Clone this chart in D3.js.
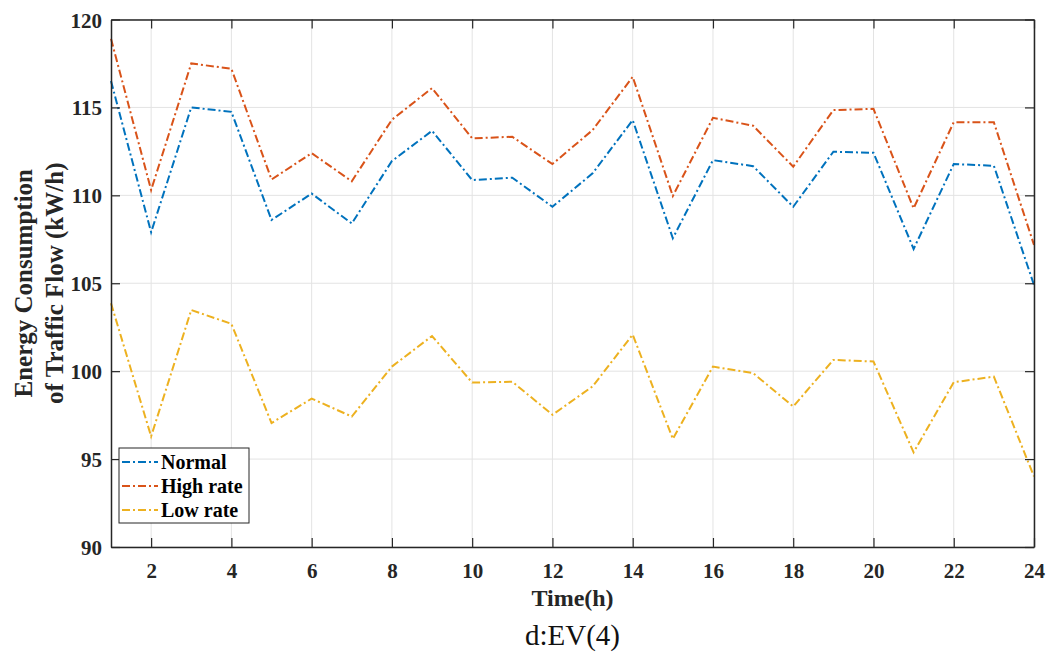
<!DOCTYPE html>
<html>
<head>
<meta charset="utf-8">
<script src="https://cdn.jsdelivr.net/npm/d3@7"></script>
<style>
  body { margin: 0; background: #fff; }
  text { font-family: "Liberation Serif", "Times New Roman", serif; }
</style>
</head>
<body>
<div id="chart"></div>
<script>
// datos
const hours = d3.range(1, 25);
const normal = [116.5, 107.9, 115.0, 114.75, 108.6, 110.1, 108.4, 111.95, 113.67, 110.87, 111.0, 109.35,
  111.25, 114.28, 107.56, 112.0, 111.66, 109.35, 112.48, 112.42, 106.95, 111.78, 111.68, 104.9];
const highRate = [118.9, 110.3, 117.5, 117.2, 110.9, 112.4, 110.8, 114.3, 116.1, 113.24, 113.33, 111.78,
  113.71, 116.74, 109.96, 114.41, 113.96, 111.63, 114.85, 114.92, 109.26, 114.16, 114.15, 107.18];
const lowRate = [103.86, 96.29, 103.48, 102.69, 97.05, 98.44, 97.42, 100.26, 102.0, 99.35, 99.4, 97.52,
  99.13, 102.08, 96.15, 100.26, 99.89, 97.99, 100.64, 100.55, 95.38, 99.37, 99.69, 94.01];
const seriesNames = ["Normal", "High rate", "Low rate"];
const seriesColors = ["#0072BD", "#D95319", "#EDB120"];
const xTicks = [2, 4, 6, 8, 10, 12, 14, 16, 18, 20, 22, 24];
const yTicks = [90, 95, 100, 105, 110, 115, 120];

const W = 1053, H = 666;
const margin = { top: 19.5, right: 19, bottom: 119, left: 111 };
const width = W - margin.left - margin.right;
const height = H - margin.top - margin.bottom;
const dash = "8,3,2,3";

const svg = d3.select("#chart").append("svg")
  .attr("width", W).attr("height", H);
const g = svg.append("g")
  .attr("transform", `translate(${margin.left},${margin.top})`);

const x = d3.scaleLinear().domain([1, 24]).range([0, width]);
const y = d3.scaleLinear().domain([90, 120]).range([height, 0]);

// rejilla
g.append("g").selectAll("line").data(xTicks).join("line")
  .attr("x1", d => x(d)).attr("x2", d => x(d))
  .attr("y1", 0).attr("y2", height)
  .attr("stroke", "#e3e3e3").attr("stroke-width", 1);
g.append("g").selectAll("line").data(yTicks).join("line")
  .attr("x1", 0).attr("x2", width)
  .attr("y1", d => y(d)).attr("y2", d => y(d))
  .attr("stroke", "#e3e3e3").attr("stroke-width", 1);

// series
const data = [normal, highRate, lowRate];
const line = d3.line().x((d, i) => x(hours[i])).y(d => y(d));
data.forEach((s, k) => {
  g.append("path")
    .datum(s)
    .attr("fill", "none")
    .attr("stroke", seriesColors[k])
    .attr("stroke-width", 2)
    .attr("stroke-dasharray", dash)
    .attr("d", line);
});

// ejes
const axisColor = "#262626";
const tickLen = 9;
const xAxis = g.append("g")
  .attr("transform", `translate(0,${height})`)
  .call(d3.axisBottom(x).tickValues(xTicks).tickSizeInner(-tickLen).tickSizeOuter(0).tickPadding(16));
const yAxis = g.append("g")
  .call(d3.axisLeft(y).tickValues(yTicks).tickSizeInner(-tickLen).tickSizeOuter(0).tickPadding(9));
const xTop = g.append("g")
  .call(d3.axisTop(x).tickValues(xTicks).tickSizeInner(-tickLen).tickSizeOuter(0).tickFormat(""));
const yRight = g.append("g")
  .attr("transform", `translate(${width},0)`)
  .call(d3.axisRight(y).tickValues(yTicks).tickSizeInner(-tickLen).tickSizeOuter(0).tickFormat(""));

[xAxis, yAxis, xTop, yRight].forEach(a => {
  a.select(".domain").attr("stroke", axisColor).attr("stroke-width", 1.5);
  a.selectAll(".tick line").attr("stroke", axisColor).attr("stroke-width", 1.2);
  a.selectAll(".tick text")
    .attr("fill", axisColor)
    .style("font-family", "'Liberation Serif', serif")
    .style("font-weight", "bold")
    .style("font-size", "21px");
});
yAxis.selectAll(".tick text").attr("dy", "0.36em");

// titulos de ejes
svg.append("text")
  .attr("x", margin.left + width / 2)
  .attr("y", 606)
  .attr("text-anchor", "middle")
  .attr("fill", axisColor)
  .style("font-weight", "bold")
  .style("font-size", "24px")
  .text("Time(h)");

const yl = svg.append("text")
  .attr("transform", `translate(32,${margin.top + height / 2}) rotate(-90)`)
  .attr("text-anchor", "middle")
  .attr("fill", axisColor)
  .style("font-weight", "bold")
  .style("font-size", "25px");
yl.append("tspan").attr("x", 0).attr("y", 0).text("Energy Consumption");
yl.append("tspan").attr("x", 0).attr("y", 31).text("of Traffic Flow (kW/h)");

svg.append("text")
  .attr("x", margin.left + width / 2)
  .attr("y", 645)
  .attr("text-anchor", "middle")
  .attr("fill", "#111")
  .style("font-size", "29px")
  .text("d:EV(4)");

// leyenda
const legend = svg.append("g").attr("transform", "translate(119,448)");
legend.append("rect")
  .attr("width", 130).attr("height", 75)
  .attr("fill", "#fff").attr("stroke", axisColor).attr("stroke-width", 1);
seriesNames.forEach((name, i) => {
  const ly = 14 + i * 24;
  legend.append("line")
    .attr("x1", 3).attr("x2", 39).attr("y1", ly).attr("y2", ly)
    .attr("stroke", seriesColors[i]).attr("stroke-width", 2)
    .attr("stroke-dasharray", dash);
  legend.append("text")
    .attr("x", 42).attr("y", ly).attr("dy", "0.35em")
    .attr("fill", "#000")
    .style("font-weight", "bold")
    .style("font-size", "20px")
    .text(name);
});
</script>
</body>
</html>
